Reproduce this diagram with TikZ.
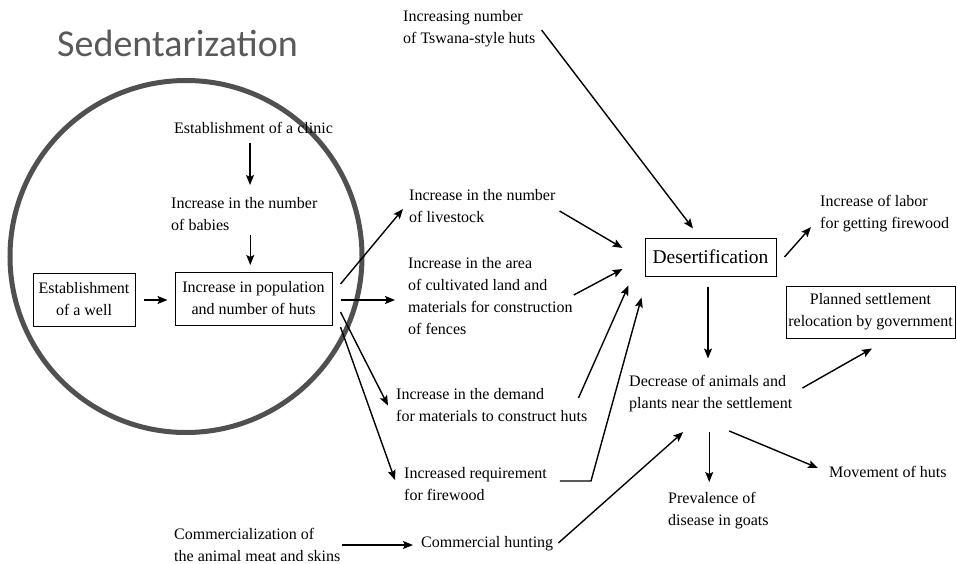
\documentclass[tikz,border=0pt]{standalone}
\usepackage{fontspec}
\setmainfont{Liberation Serif}
\newfontfamily\titlefont{Carlito}
\usetikzlibrary{arrows.meta}
\definecolor{titlegray}{HTML}{595959}
\definecolor{ringgray}{HTML}{505050}

\begin{document}
\begin{tikzpicture}[x=1pt,y=-1pt,>={Stealth[length=10pt,width=8pt,inset=2pt]},
		font=\fontsize{16}{22}\selectfont]
	\tikzstyle{cause}=[align=left,anchor=west,inner sep=0pt]
	\tikzstyle{box}=[draw,line width=1pt,align=center,inner sep=0pt]
	\tikzstyle{arrow}=[->,line width=1.4pt]
	\useasboundingbox (0,0) rectangle (957,564);
	
	% Titel und Kreis
	\node[anchor=base west,inner sep=0pt,text=titlegray] (title) at (57,57)
	{\titlefont\fontsize{38}{46}\selectfont Sedentarization};
	\draw[ringgray,line width=5pt] (186,256.5) circle[radius=176pt];
	
	% Knoten im Kreis
	\node[cause] (clinic) at (174,128) {Establishment of a clinic};
	\node[cause] (babies) at (171,214) {Increase in the number\\of babies};
	\node[box,minimum width=102pt,minimum height=53pt] (well) at (84,299.5)
	{Establishment\\of a well};
	\node[box,minimum width=157pt,minimum height=53pt] (pop) at (253.5,298.5)
	{Increase in population\\and number of huts};
	
	% Ursachen
	\node[cause] (tswana) at (403,28.5) {Increasing number\\of Tswana-style huts};
	\node[cause] (livestock) at (409,206) {Increase in the number\\of livestock};
	\node[cause] (area) at (408,296) {Increase in the area\\of cultivated land and\\materials for construction\\of fences};
	\node[cause] (demand) at (396,405.5) {Increase in the demand\\for materials to construct huts};
	\node[cause] (firewood) at (404,484) {Increased requirement\\for firewood};
	\node[cause] (commerce) at (174,544.5) {Commercialization of\\the animal meat and skins};
	\node[cause] (hunting) at (421,544) {Commercial hunting};
	
	% Folgen
	\node[box,minimum width=131pt,minimum height=38pt,font=\fontsize{19.5}{24}\selectfont]
	(desert) at (710.5,257) {Desertification};
	\node[cause] (labor) at (820,213.5) {Increase of labor\\for getting firewood};
	\node[cause] (decrease) at (629,393.5) {Decrease of animals and\\plants near the settlement};
	\node[box,minimum width=169pt,minimum height=52pt] (planned) at (870.5,312)
	{Planned settlement\\relocation by government};
	\node[cause] (movement) at (829,472) {Movement of huts};
	\node[cause] (prevalence) at (668,510.5) {Prevalence of\\disease in goats};
	
	% Pfeile im Kreis
	\draw[arrow] ([shift={(-3.5,15)}]clinic.center) -- ++(0,42);
	\draw[arrow] ([shift={(6,21)}]babies.center) -- ++(0,30);
	\draw[arrow] ([shift={(8,0.5)}]well.east) -- ([shift={(-7,1.5)}]pop.west);
	
	% Pfeile aus dem Kreis
	\draw[arrow] ([shift={(8,-14.5)}]pop.east) -- ([shift={(-6,3)}]livestock.west);
	\draw[arrow] ([shift={(8,1.5)}]pop.east) -- ([shift={(-13,4)}]area.west);
	\draw[arrow] ([shift={(8,13.5)}]pop.east) -- ([shift={(-8,0)}]demand.west);
	\draw[arrow] ([shift={(8,28.5)}]pop.east) -- ([shift={(-9,-4)}]firewood.west);
	\draw[arrow] ([shift={(1,0.5)}]commerce.east) -- ([shift={(-8,1)}]hunting.west);
	
	% Pfeile zur Desertifikation
	\draw[arrow] ([shift={(6,1.5)}]tswana.east) -- ([shift={(-17.5,-9)}]desert.north);
	\draw[arrow] ([shift={(4,5)}]livestock.east) -- ([shift={(-22,-9)}]desert.west);
	\draw[arrow] ([shift={(1,-1)}]area.east) -- ([shift={(-22,12)}]desert.west);
	\draw[arrow] ([shift={(-9,-7.5)}]demand.east) -- ([shift={(-16,9)}]desert.south west);
	\draw[arrow] ([shift={(13,-3)}]firewood.east) -- ++(31,0) -- ([shift={(-3,21)}]desert.south west);
	\draw[arrow] ([shift={(5,-1)}]hunting.east) -- ([shift={(-27.5,38.5)}]decrease.center);
	
	% Pfeile aus der Desertifikation
	\draw[arrow] ([shift={(8,0)}]desert.east) -- ([shift={(-9,13.5)}]labor.west);
	\draw[arrow] ([shift={(-2.5,10)}]desert.south) -- ++(0,72);
	\draw[arrow] ([shift={(10,-5.5)}]decrease.east) -- ([shift={(1.5,10)}]planned.south);
	\draw[arrow] ([shift={(18.5,37.5)}]decrease.center) -- ([shift={(-11,-4)}]movement.west);
	\draw[arrow] ([shift={(-1.5,38.5)}]decrease.center) -- ++(0,50);
\end{tikzpicture}
\end{document}
